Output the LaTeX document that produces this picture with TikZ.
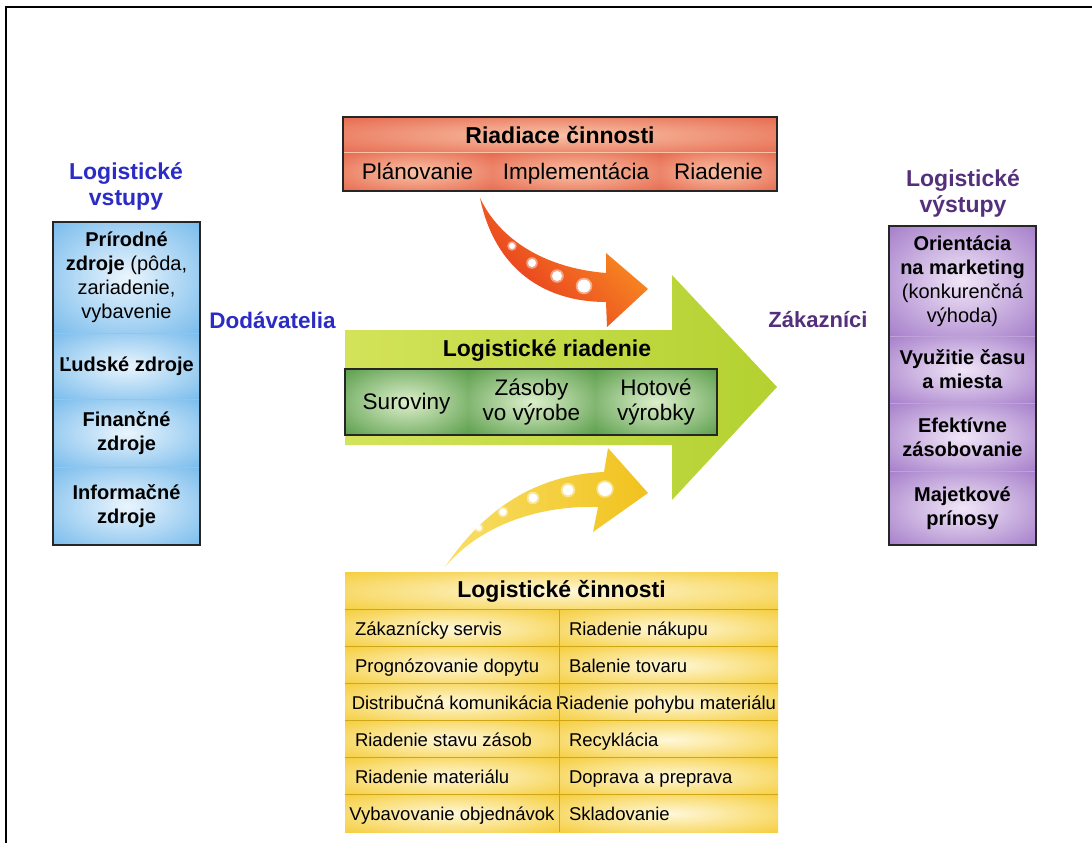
\documentclass[tikz,border=0pt]{standalone}
\usepackage{fontspec}
\setmainfont{Liberation Sans}

\definecolor{blueinner}{HTML}{EAF5FD}
\definecolor{blueouter}{HTML}{5EAEE8}
\definecolor{purpinner}{HTML}{F0E6F7}
\definecolor{purpouter}{HTML}{9465BF}
\definecolor{greeninner}{HTML}{DDEFCB}
\definecolor{greenouter}{HTML}{3B8A2C}
\definecolor{redinner}{HTML}{F9C3A8}
\definecolor{redouter}{HTML}{E2553A}
\definecolor{yellowinner}{HTML}{FFF8DA}
\definecolor{yellowouter}{HTML}{F3C41A}
\definecolor{greenleft}{HTML}{D3E35A}
\definecolor{greenright}{HTML}{B3D130}
\definecolor{redtop}{HTML}{FA9A22}
\definecolor{redbot}{HTML}{E6301F}
\definecolor{yellowleft}{HTML}{F8DF66}
\definecolor{yellowright}{HTML}{F1C21E}
\definecolor{vstupblue}{HTML}{2B2BC6}
\definecolor{vystuppurple}{HTML}{54307C}
\definecolor{edgegray}{HTML}{262626}

\pgfdeclareradialshading{blueglow}{\pgfpoint{0bp}{0bp}}{color(0bp)=(blueinner); color(44bp)=(blueouter); color(50bp)=(blueouter)}
\pgfdeclareradialshading{purpglow}{\pgfpoint{0bp}{0bp}}{color(0bp)=(purpinner); color(44bp)=(purpouter); color(50bp)=(purpouter)}
\pgfdeclareradialshading{greenglow}{\pgfpoint{0bp}{0bp}}{color(0bp)=(greeninner); color(44bp)=(greenouter); color(50bp)=(greenouter)}
\pgfdeclareradialshading{redglow}{\pgfpoint{0bp}{0bp}}{color(0bp)=(redinner); color(44bp)=(redouter); color(50bp)=(redouter)}
\pgfdeclareradialshading{yellowglow}{\pgfpoint{0bp}{0bp}}{color(0bp)=(yellowinner); color(44bp)=(yellowouter); color(50bp)=(yellowouter)}

% table text: left aligned, centred when too wide
\newcommand{\fitcell}[1]{\hbox to 194pt{\hskip 0pt minus 1fil\relax #1\hskip 0pt plus 1fill minus 1fil\relax}}

\tikzset{
  cell/.style={rectangle, inner sep=0pt, align=center, shade},
  boxtxt/.style={font=\fontsize{20}{24}\selectfont},
  bigtxt/.style={font=\fontsize{22.5}{25}\selectfont},
  oneline/.style={text height=16pt, text depth=2pt},
  headtxt/.style={font=\bfseries\fontsize{23}{26}\selectfont},
  tabtxt/.style={font=\fontsize{18.5}{22}\selectfont, anchor=west, inner sep=0pt, text height=13.5pt, text depth=0.5pt},
  boxline/.style={draw=edgegray, line width=1.5pt},
  tabsep/.style={draw=yellowouter!85!black, line width=0.8pt}
}

\begin{document}
\begin{tikzpicture}[x=1pt, y=-1pt]
  \useasboundingbox (0,0) rectangle (1092,843);
  \draw[line width=2pt] (6,843) -- (6,7) -- (1092,7);

  % logisticke vstupy
  \node[headtxt, text=vstupblue, align=center] (vstupy) at (126,186) {Logistické\\vstupy};
  \node[cell, shading=blueglow, minimum width=147, minimum height=111, boxtxt] (vstup1) at (126.5,277.5)
    {\textbf{Prírodné}\\\textbf{zdroje} (pôda,\\zariadenie,\\vybavenie};
  \node[cell, shading=blueglow, minimum width=147, minimum height=66, boxtxt] (vstup2) at (126.5,366) {\textbf{Ľudské zdroje}};
  \node[cell, shading=blueglow, minimum width=147, minimum height=68, boxtxt] (vstup3) at (126.5,433) {\textbf{Finančné}\\\textbf{zdroje}};
  \node[cell, shading=blueglow, minimum width=147, minimum height=78, boxtxt] (vstup4) at (126.5,506) {\textbf{Informačné}\\\textbf{zdroje}};
  \foreach \i in {1,2,3}
    \draw[blueouter!70!white, line width=1pt] (vstup\i.south west) -- (vstup\i.south east);
  \draw[boxline] (vstup1.north west) rectangle (vstup4.south east);
  \node[font=\bfseries\fontsize{22.5}{26}\selectfont, text=vstupblue] (dodav) at (272.5,320) {Dodávatelia};

  % logisticke vystupy
  \node[headtxt, text=vystuppurple, align=center] (vystupy) at (963,193) {Logistické\\výstupy};
  \node[cell, shading=purpglow, minimum width=147, minimum height=110, boxtxt] (vystup1) at (962.5,281)
    {\textbf{Orientácia}\\\textbf{na marketing}\\(konkurenčná\\výhoda)};
  \node[cell, shading=purpglow, minimum width=147, minimum height=67, boxtxt] (vystup2) at (962.5,369.5) {\textbf{Využitie času}\\\textbf{a miesta}};
  \node[cell, shading=purpglow, minimum width=147, minimum height=68, boxtxt] (vystup3) at (962.5,437) {\textbf{Efektívne}\\\textbf{zásobovanie}};
  \node[cell, shading=purpglow, minimum width=147, minimum height=74, boxtxt] (vystup4) at (962.5,508) {\textbf{Majetkové}\\\textbf{prínosy}};
  \foreach \i in {1,2,3}
    \draw[purpouter!60!white, line width=1pt] (vystup\i.south west) -- (vystup\i.south east);
  \draw[boxline] (vystup1.north west) rectangle (vystup4.south east);
  \node[font=\bfseries\fontsize{22}{26}\selectfont, text=vystuppurple] (zakaz) at (818,320) {Zákazníci};

  % hlavna sipka
  \shade[left color=greenleft, right color=greenright] (345,330) -- (672,330) -- (672,275) -- (777,387)
    -- (672,500) -- (672,445) -- (345,445) -- cycle;
  \node[headtxt] (riadenie) at (547,350) {Logistické riadenie};
  \node[cell, shading=greenglow, minimum width=123, minimum height=66, bigtxt, oneline] (surov) at (406.5,402) {Suroviny};
  \node[cell, shading=greenglow, minimum width=127, minimum height=66, bigtxt] (zasoby) at (531.5,402) {Zásoby\\vo výrobe};
  \node[cell, shading=greenglow, minimum width=122, minimum height=66, bigtxt] (hotove) at (656,402) {Hotové\\výrobky};
  \draw[boxline] (surov.north west) rectangle (hotove.south east);

  % riadiace cinnosti
  \node[cell, shading=redglow, minimum width=434, minimum height=36, headtxt] (riadiace) at (560,135) {Riadiace činnosti};
  \node[cell, shading=redglow, minimum width=149, minimum height=38, bigtxt, oneline] (plan) at (417.5,172) {Plánovanie};
  \node[cell, shading=redglow, minimum width=168, minimum height=38, bigtxt, oneline] (impl) at (576,172) {Implementácia};
  \node[cell, shading=redglow, minimum width=117, minimum height=38, bigtxt, oneline] (riad) at (718.5,172) {Riadenie};
  \draw[redinner, line width=1pt] (plan.north west) -- (riad.north east);
  \draw[boxline] (riadiace.north west) rectangle (riad.south east);

  % zahnute sipky
  \shade[top color=redtop, bottom color=redbot, shading angle=-45]
    (480,198) .. controls (500,240) and (545,268) .. (606,273) -- (606,253) -- (648,289) -- (607,327)
    -- (606,302) .. controls (545,302) and (495,270) .. (480,198) -- cycle;
  \shade[left color=yellowleft, right color=yellowright]
    (445,567) .. controls (480,515) and (530,475) .. (604,472) -- (608,448) -- (648,493) -- (593,532)
    -- (598,507) .. controls (540,505) and (480,525) .. (445,567) -- cycle;
  \foreach \x/\y/\r in {512/246/3, 532/263/4, 557/276/5, 584/286/6.5,
                        479/528/2.5, 503/512/3.5, 533/498/4.5, 568/490/5.5, 605/489/7} {
    \fill[white, opacity=.45] (\x,\y) circle[radius=\r pt+1.8pt];
    \fill[white] (\x,\y) circle[radius=\r pt];
  }

  % logisticke cinnosti
  \node[cell, shading=yellowglow, minimum width=433, minimum height=38, headtxt] (cinnosti) at (561.5,591) {Logistické činnosti};
  \foreach \l/\r [count=\i] in {Zákaznícky servis/Riadenie nákupu, Prognózovanie dopytu/Balenie tovaru,
      Distribučná komunikácia/Riadenie pohybu materiálu, Riadenie stavu zásob/Recyklácia,
      Riadenie materiálu/Doprava a preprava, Vybavovanie objednávok/Skladovanie} {
    \node[cell, shading=yellowglow, minimum width=214, minimum height=37] (lc\i) at (452,591.5+37*\i) {};
    \node[cell, shading=yellowglow, minimum width=219, minimum height=37] (rc\i) at (668.5,591.5+37*\i) {};
    \node[tabtxt] (lt\i) at ([xshift=10pt]lc\i.west) {\fitcell{\l}};
    \node[tabtxt] (rt\i) at ([xshift=10pt]rc\i.west) {\fitcell{\r}};
    \draw[tabsep] (lc\i.north west) -- (rc\i.north east);
  }
  \draw[tabsep] (lc1.north east) -- (lc6.south east);
\end{tikzpicture}
\end{document}
